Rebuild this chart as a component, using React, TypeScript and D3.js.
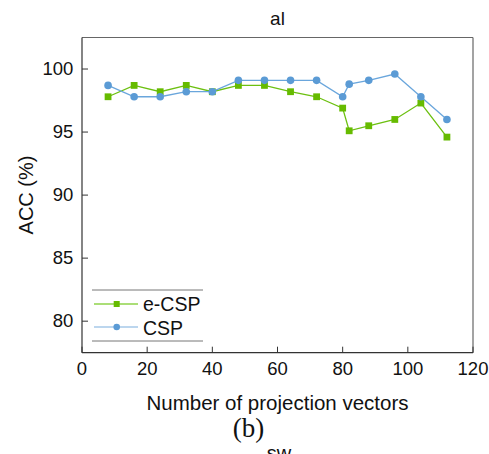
import React from "react";
import * as d3 from "d3";

const xValues = [8, 16, 24, 32, 40, 48, 56, 64, 72, 80, 82, 88, 96, 104, 112];
const eCSP = [97.8, 98.7, 98.2, 98.7, 98.2, 98.7, 98.7, 98.2, 97.8, 96.9, 95.1, 95.5, 96.0, 97.3, 94.6];
const CSP = [98.7, 97.8, 97.8, 98.2, 98.2, 99.1, 99.1, 99.1, 99.1, 97.8, 98.8, 99.1, 99.6, 97.8, 96.0];
const xTicks = [0, 20, 40, 60, 80, 100, 120];
const yTicks = [80, 85, 90, 95, 100];
const seriesNames = ["e-CSP", "CSP"];

const W = 489;
const H = 454;
const left = 82;
const right = 473;
const top = 37.5;
const bottom = 352.7;
const font = "'Liberation Sans', Arial, sans-serif";
const green = "#66bb00";
const greenLine = "#6cc010";
const blue = "#5b9bd5";
const blueLine = "#6aa6dc";

export default function App() {
  const x = d3.scaleLinear().domain([0, 120]).range([left, right]);
  const y = d3.scaleLinear().domain([77.5, 102.5]).range([bottom, top]);
  const line = d3
    .line<number>()
    .x((_, i) => x(xValues[i]))
    .y((d) => y(d));

  return (
    <svg
      width={W}
      height={H}
      style={{ position: "absolute", left: 0, top: 0, background: "#fff" }}
      fontFamily={font}
    >
      <rect x={0} y={0} width={W} height={H} fill="#fff" />
      {/* title */}
      <text x={(left + right) / 2} y={25} textAnchor="middle" fontSize={19} fill="#111">
        al
      </text>
      {/* frame */}
      <line x1={left} x2={right} y1={top} y2={top} stroke="#666" strokeWidth={1.2} />
      <line x1={right} x2={right} y1={top} y2={bottom} stroke="#666" strokeWidth={1.2} />
      <line x1={left} x2={left} y1={top} y2={bottom} stroke="#333" strokeWidth={1.2} />
      <line x1={left} x2={right} y1={bottom} y2={bottom} stroke="#333" strokeWidth={1.2} />
      {/* x ticks */}
      {xTicks.map((t) => (
        <g key={"x" + t}>
          <line x1={x(t)} x2={x(t)} y1={bottom} y2={bottom - 6} stroke="#333" strokeWidth={1} />
          <text x={x(t)} y={374.5} textAnchor="middle" fontSize={18.5} fill="#111">
            {t}
          </text>
        </g>
      ))}
      {/* y ticks */}
      {yTicks.map((t) => (
        <g key={"y" + t}>
          <line x1={left} x2={left + 6} y1={y(t)} y2={y(t)} stroke="#333" strokeWidth={1} />
          <text x={73.3} y={y(t) + 5.5} textAnchor="end" fontSize={18.5} fill="#111">
            {t}
          </text>
        </g>
      ))}
      {/* axis labels */}
      <text x={(left + right) / 2} y={410} textAnchor="middle" fontSize={20.5} fill="#111">
        Number of projection vectors
      </text>
      <text
        transform={`translate(33, 195) rotate(-90)`}
        textAnchor="middle"
        fontSize={20}
        fill="#111"
      >
        ACC (%)
      </text>
      {/* e-CSP */}
      <path d={line(eCSP) || ""} fill="none" stroke={greenLine} strokeWidth={1.3} />
      {eCSP.map((v, i) => (
        <rect key={"e" + i} x={x(xValues[i]) - 3.4} y={y(v) - 3.4} width={6.8} height={6.8} fill={green} />
      ))}
      {/* CSP */}
      <path d={line(CSP) || ""} fill="none" stroke={blueLine} strokeWidth={1.3} />
      {CSP.map((v, i) => (
        <circle key={"c" + i} cx={x(xValues[i])} cy={y(v)} r={3.8} fill={blue} />
      ))}
      {/* legend */}
      <line x1={92} x2={203} y1={290} y2={290} stroke="#777" strokeWidth={1} />
      <line x1={92} x2={203} y1={341} y2={341} stroke="#777" strokeWidth={1} />
      <line x1={94} x2={138} y1={304} y2={304} stroke="#8fd34a" strokeWidth={1.3} />
      <rect x={116.7 - 3} y={301} width={6} height={6} fill={green} />
      <text x={143} y={310.5} fontSize={19.5} fill="#111">
        {seriesNames[0]}
      </text>
      <line x1={94} x2={138} y1={327} y2={327} stroke="#a6c8e8" strokeWidth={1.3} />
      <circle cx={116.7} cy={327} r={3.3} fill={blue} />
      <text x={143} y={334.5} fontSize={19.5} fill="#111">
        {seriesNames[1]}
      </text>
      {/* caption */}
      <text x={248.5} y={437} textAnchor="middle" fontSize={27} fontFamily="'Liberation Serif', 'Times New Roman', serif" fill="#111">
        (b)
      </text>
      <text x={279} y={460} textAnchor="middle" fontSize={20} fill="#111">
        sw
      </text>
    </svg>
  );
}
